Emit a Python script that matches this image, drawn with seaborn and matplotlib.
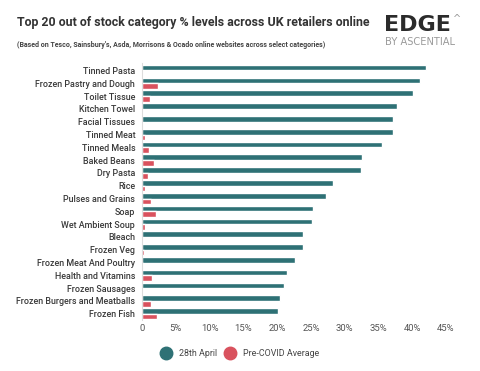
import matplotlib
matplotlib.use("Agg")
import matplotlib.pyplot as plt
import seaborn as sns
import pandas as pd
from matplotlib.lines import Line2D
from matplotlib.ticker import FuncFormatter

categories = ["Tinned Pasta", "Frozen Pastry and Dough", "Toilet Tissue", "Kitchen Towel",
              "Facial Tissues", "Tinned Meat", "Tinned Meals", "Baked Beans", "Dry Pasta",
              "Rice", "Pulses and Grains", "Soap", "Wet Ambient Soup", "Bleach", "Frozen Veg",
              "Frozen Meat And Poultry", "Health and Vitamins", "Frozen Sausages",
              "Frozen Burgers and Meatballs", "Frozen Fish"]
april_28 = [42.0, 41.2, 40.1, 37.7, 37.2, 37.2, 35.5, 32.6, 32.4, 28.3,
            27.3, 25.3, 25.2, 23.8, 23.8, 22.6, 21.5, 21.0, 20.5, 20.1]
pre_covid = [0.0, 2.3, 1.1, 0.0, 0.0, 0.5, 1.0, 1.7, 0.9, 0.4,
             1.3, 2.1, 0.5, 0.0, 0.3, 0.2, 1.4, 0.0, 1.3, 2.2]
series_names = ["28th April", "Pre-COVID Average"]
colors = ["#2e7175", "#d9525e"]
x_ticks = [0, 5, 10, 15, 20, 25, 30, 35, 40, 45]

df = pd.DataFrame({
    "category": categories * 2,
    "value": april_28 + pre_covid,
    "series": [series_names[0]] * len(categories) + [series_names[1]] * len(categories),
})

sns.set_theme(style="white")
plt.rcParams["font.family"] = ["Roboto", "DejaVu Sans"]

fig = plt.figure(figsize=(4.8, 3.71), dpi=100)
ax = fig.add_axes([0.296, 0.137, 0.633, 0.692])

sns.barplot(data=df, y="category", x="value", hue="series", order=categories,
            hue_order=series_names, palette=colors, width=0.88, orient="h",
            ax=ax, legend=False, saturation=1)

ax.set_xlim(0, 45)
ax.set_ylim(len(categories) - 0.5, -0.55)
ax.set_xticks(x_ticks)
ax.xaxis.set_major_formatter(FuncFormatter(lambda v, p: "0" if v == 0 else f"{int(v)}%"))
ax.set_xlabel("")
ax.set_ylabel("")
for s in ["top", "right", "bottom"]:
    ax.spines[s].set_visible(False)
ax.spines["left"].set_color("#dddddd")
ax.spines["left"].set_linewidth(0.8)
ax.tick_params(axis="both", length=0, colors="#444444")
ax.tick_params(axis="y", pad=5, labelsize=6.4)
ax.tick_params(axis="x", pad=3, labelsize=6.8)
for lbl in ax.get_yticklabels():
    lbl.set_fontweight("medium")
    lbl.set_color("#3a3a3a")
for lbl in ax.get_xticklabels():
    lbl.set_color("#555555")

fig.text(0.035, 0.94, "Top 20 out of stock category % levels across UK retailers online",
         fontsize=8.9, fontweight="bold", color="#333333", va="center", ha="left")
fig.text(0.036, 0.879, "(Based on Tesco, Sainsbury's, Asda, Morrisons & Ocado online websites across select categories)",
         fontsize=5.0, fontweight="bold", color="#444444", va="center", ha="left")

fig.text(0.801, 0.932, "EDGE", fontsize=16, fontweight="bold", color="#2b2b2b",
         va="center", ha="left", family="DejaVu Sans")
fig.text(0.944, 0.948, "^", fontsize=7, color="#999999", va="center", ha="left",
         family="DejaVu Sans")
fig.text(0.802, 0.888, "BY ASCENTIAL", fontsize=7.1, color="#9a9a9a", va="center", ha="left",
         family="DejaVu Sans")

handles = [Line2D([0], [0], marker="o", linestyle="", markersize=9,
                  markerfacecolor=c, markeredgecolor=c) for c in colors]
fig.legend(handles, series_names, loc="center", bbox_to_anchor=(0.496, 0.046), ncol=2,
           frameon=False, fontsize=6.4, handletextpad=0.5, columnspacing=0.45,
           labelcolor="#444444")

fig.savefig("out.png", dpi=100, facecolor="white")
